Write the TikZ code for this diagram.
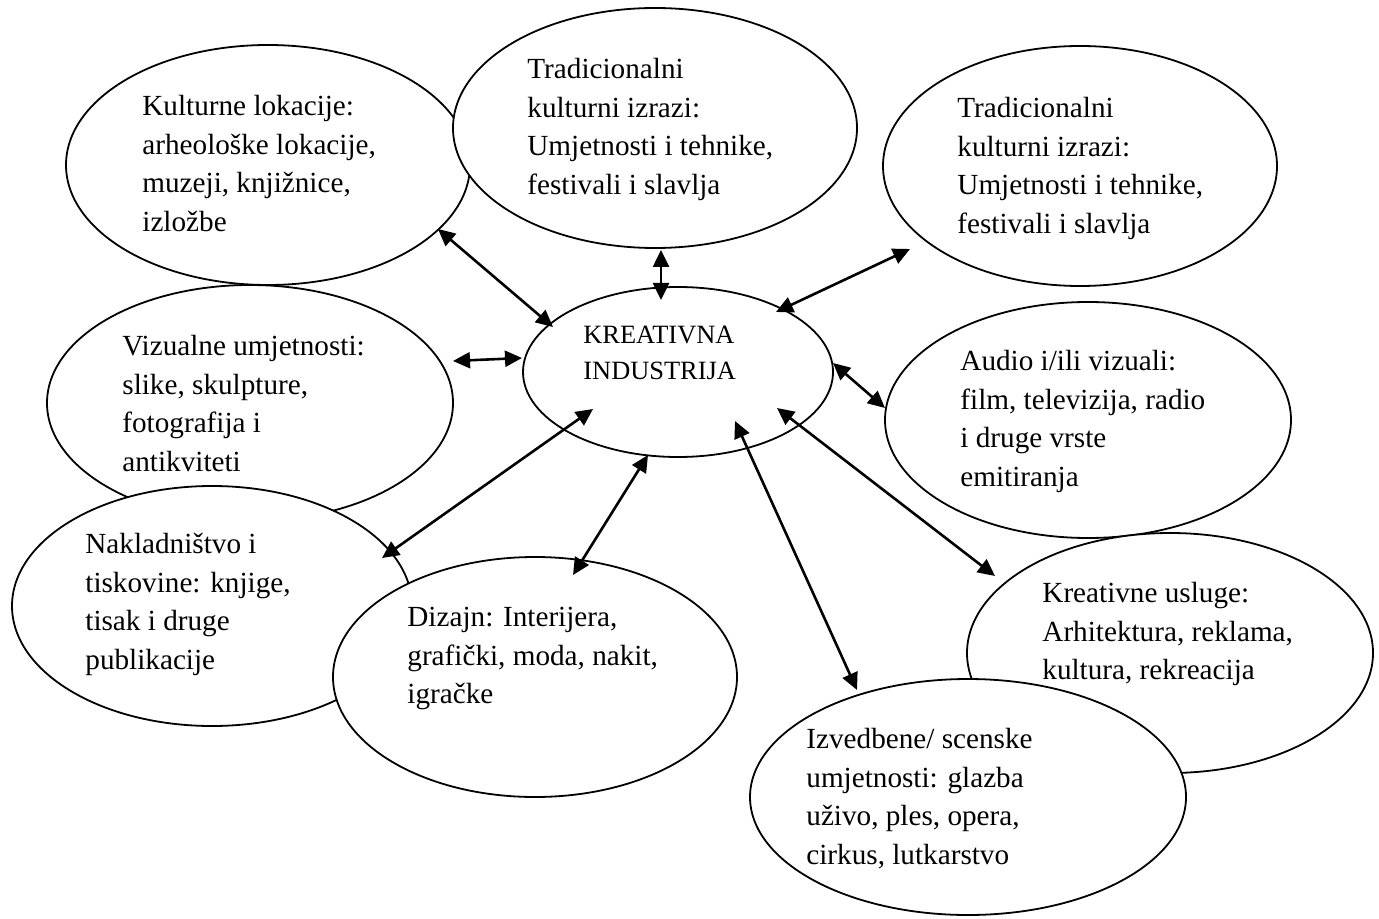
\documentclass[tikz,border=0pt]{standalone}
\usepackage{fontspec}
\setmainfont{Liberation Serif}
\usetikzlibrary{shapes.geometric, arrows.meta, positioning}

\begin{document}
\begin{tikzpicture}[
  x=0.5pt, y=-0.5pt,
  bubble/.style 2 args={ellipse, draw, fill=white, line width=0.9pt, inner sep=0pt, minimum width=#1pt, minimum height=#2pt},
  txt/.style={anchor=north west, inner sep=0pt, align=left, font=\fontsize{14.6pt}{19.25pt}\selectfont},
  midtxt/.style={anchor=north west, inner sep=0pt, align=left, font=\fontsize{13.2pt}{18pt}\selectfont},
  arrow/.style={{Triangle[length=8.5pt,width=8pt]}-{Triangle[length=8.5pt,width=8pt]}, line width=1.3pt}
]
  \useasboundingbox (0,0) rectangle (1379,919);

  % Left column
  \node[bubble={202}{120}] (kult) at (268,165) {};
  \node[txt] (kultT) at (142,95) {Kulturne lokacije:\\arheološke lokacije,\\muzeji, knjižnice,\\izložbe};
  \node[bubble={202}{120}] (tradA) at (655,128) {};
  \node[txt] (tradAT) at (527,58) {Tradicionalni\\kulturni izrazi:\\Umjetnosti i tehnike,\\festivali i slavlja};
  \node[bubble={203}{118}] (vizu) at (250,403) {};
  \node[txt] (vizuT) at (122,335) {Vizualne umjetnosti:\\slike, skulpture,\\fotografija i\\antikviteti};
  \node[bubble={200}{120}] (nakl) at (212,606) {};
  \node[txt] (naklT) at (85,533) {Nakladništvo i\\tiskovine: knjige,\\tisak i druge\\publikacije};
  \node[bubble={202}{120}] (diza) at (535,677) {};
  \node[txt] (dizaT) at (407,607) {Dizajn: Interijera,\\grafički, moda, nakit,\\igračke};

  % Right column
  \node[bubble={197}{120}] (tradB) at (1080,166) {};
  \node[txt] (tradBT) at (957,97) {Tradicionalni\\kulturni izrazi:\\Umjetnosti i tehnike,\\festivali i slavlja};
  \node[bubble={203}{118}] (audio) at (1088,420) {};
  \node[txt] (audioT) at (960,350) {Audio i/ili vizuali:\\film, televizija, radio\\i druge vrste\\emitiranja};
  \node[bubble={203}{120}] (usl) at (1170,653) {};
  \node[txt] (uslT) at (1042,582) {Kreativne usluge:\\Arhitektura, reklama,\\kultura, rekreacija};
  \node[bubble={218}{118}] (izv) at (968,797) {};
  \node[txt] (izvT) at (806,728) {Izvedbene/ scenske\\umjetnosti: glazba\\uživo, ples, opera,\\cirkus, lutkarstvo};

  % Centre
  \node[bubble={155}{85}] (kreat) at (678,372) {};
  \node[midtxt] (kreatT) at (583,326) {KREATIVNA\\INDUSTRIJA};

  % Arrow ends
  \coordinate (kultE) at (438,229);  \coordinate (kreatNW) at (553,327);
  \coordinate (tradAS) at (661,250); \coordinate (kreatN) at (661,300);
  \coordinate (tradBW) at (910,249); \coordinate (kreatNE) at (776,312);
  \coordinate (vizuE) at (453,361);  \coordinate (kreatW) at (522,358);
  \coordinate (kreatE) at (833,363); \coordinate (audioW) at (885,408);
  \coordinate (kreatSW) at (593,409); \coordinate (naklE) at (382,558);
  \coordinate (kreatS) at (648,455); \coordinate (dizaN) at (573,575);
  \coordinate (kreatSE) at (735,421); \coordinate (izvN) at (857,690);
  \coordinate (kreatES) at (777,408); \coordinate (uslW) at (995,576);

  \draw[arrow] (kultE) -- (kreatNW);
  \draw[arrow] (tradAS) -- (kreatN);
  \draw[arrow] (tradBW) -- (kreatNE);
  \draw[arrow] (vizuE) -- (kreatW);
  \draw[arrow] (kreatE) -- (audioW);
  \draw[arrow] (kreatSW) -- (naklE);
  \draw[arrow] (kreatS) -- (dizaN);
  \draw[arrow] (kreatSE) -- (izvN);
  \draw[arrow] (kreatES) -- (uslW);
\end{tikzpicture}
\end{document}
